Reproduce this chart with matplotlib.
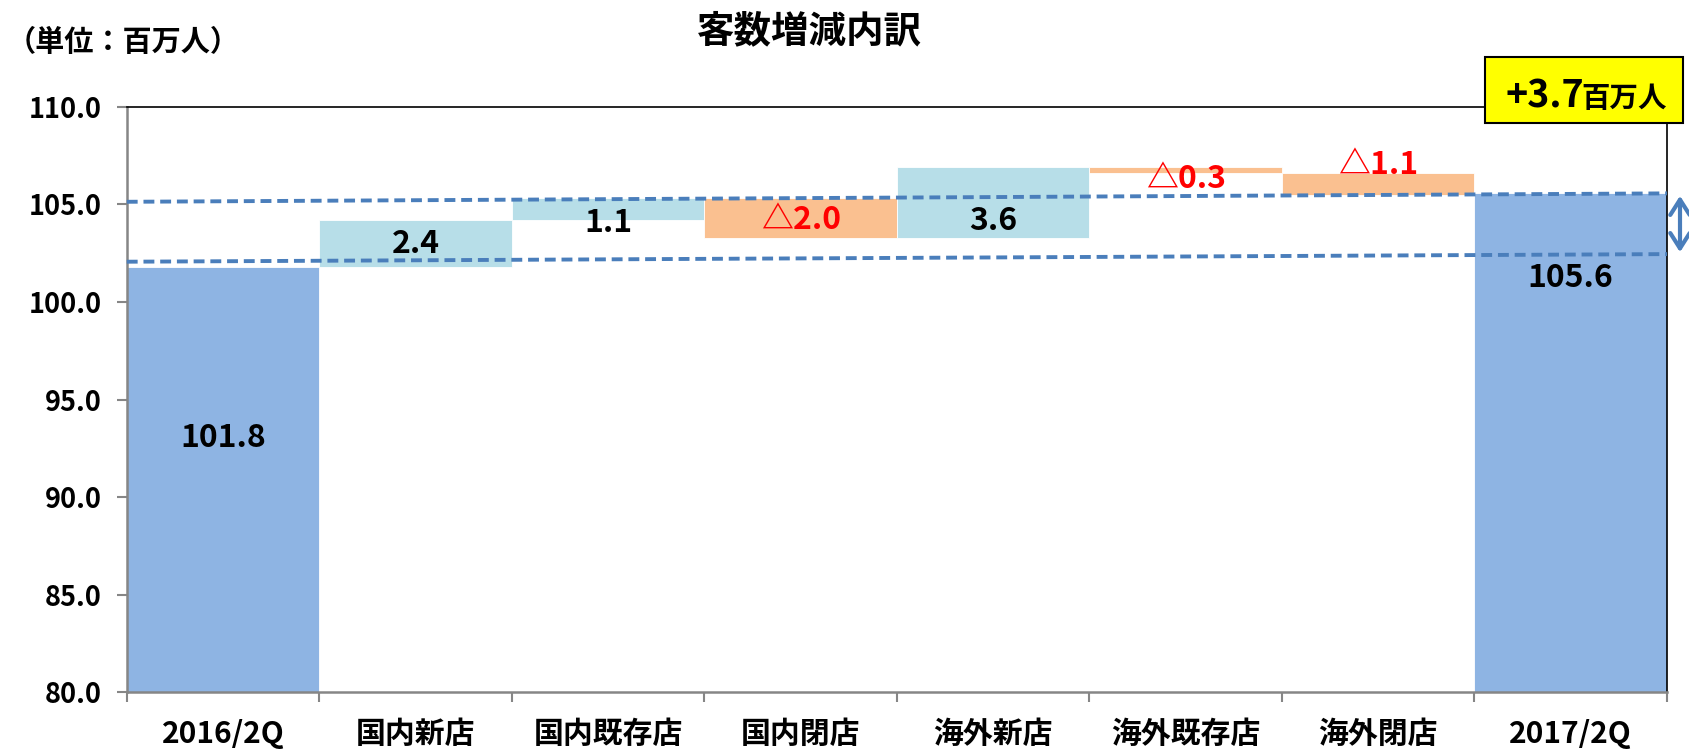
import numpy as np
import matplotlib
matplotlib.use('Agg')
import matplotlib.pyplot as plt
from matplotlib.patches import Rectangle, FancyArrowPatch

plt.rcParams['font.family'] = ['Noto Sans CJK JP', 'DejaVu Sans']

categories = ['2016/2Q', '国内新店', '国内既存店', '国内閉店', '海外新店', '海外既存店', '海外閉店', '2017/2Q']
start_total = 101.8
changes = [2.4, 1.1, -2.0, 3.6, -0.3, -1.1]
end_total = 105.6
total_change = 3.7

# label heights placed by hand in the original slide (data units)
label_y = [93.05, 102.97, 104.05, 104.2, 104.15, 106.3, 107.0, 101.23]
# dashed guide lines: value at left edge, value at right edge
guide_upper = [105.13, 105.56]
guide_lower = [102.06, 102.45]

c_total = '#8EB4E3'
c_up = '#B7DEE8'
c_down = '#FAC090'
c_guide = '#4A7EBB'
c_axis = '#868686'

n = len(categories)
x = np.arange(n)

# waterfall geometry
bottoms = [0]
heights = [start_total]
colors = [c_total]
texts = [f'{start_total:.1f}']
text_colors = ['black']
level = start_total
for c in changes:
    bottoms.append(min(level, level + c))
    heights.append(abs(c))
    colors.append(c_up if c > 0 else c_down)
    texts.append(f'{c:.1f}' if c > 0 else f'△{abs(c):.1f}')
    text_colors.append('black' if c > 0 else '#FF0000')
    level += c
bottoms.append(0)
heights.append(end_total)
colors.append(c_total)
texts.append(f'{end_total:.1f}')
text_colors.append('black')

fig = plt.figure(figsize=(16.9, 7.5), dpi=100)
ax = fig.add_axes([0.075, 0.0769, 0.9114, 0.7808])

ax.bar(x, heights, bottom=bottoms, width=1.0, color=colors,
       edgecolor='white', linewidth=0.6, zorder=2)

for i in range(n):
    ax.text(x[i], label_y[i], texts[i], ha='center', va='center',
            fontsize=23, fontweight='bold', color=text_colors[i], zorder=4)

# dashed guides
ax.plot([-0.5, n - 0.5], guide_upper, linestyle=(0, (2.8, 1.5)), color=c_guide,
        linewidth=2.8, zorder=3, clip_on=False)
ax.plot([-0.5, n - 0.5], guide_lower, linestyle=(0, (2.8, 1.5)), color=c_guide,
        linewidth=2.8, zorder=3, clip_on=False)

ax.set_xlim(-0.5, n - 0.5)
ax.set_ylim(80, 110)

ax.set_yticks(np.arange(80, 110.1, 5))
ax.set_yticklabels([f'{v:.1f}' for v in np.arange(80, 110.1, 5)], fontsize=19.5, fontweight='bold')
ax.tick_params(axis='y', length=7, width=1.5, color=c_axis, pad=11)

ax.set_xticks(x)
ax.set_xticklabels(categories, fontsize=21.5, fontweight='bold')
ax.tick_params(axis='x', which='major', length=0, pad=19)
ax.set_xticks(np.arange(-0.5, n), minor=True)
ax.tick_params(axis='x', which='minor', length=7, width=1.5, color=c_axis)

for s in ['left', 'bottom']:
    ax.spines[s].set_color(c_axis)
    ax.spines[s].set_linewidth(1.8)
for s in ['top', 'right']:
    ax.spines[s].set_color('black')
    ax.spines[s].set_linewidth(1.2)

# titles
fig.text(0.4787, 0.9587, '客数増減内訳', ha='center', va='center', fontsize=27, fontweight='bold')
fig.text(0.004, 0.944, '（単位：百万人）', ha='left', va='center', fontsize=21, fontweight='bold')

# highlight box
box = Rectangle((1485 / 1690, 1 - 123 / 750), 198 / 1690, 66 / 750, transform=fig.transFigure,
                facecolor='#FFFF00', edgecolor='black', linewidth=1.5, zorder=5)
fig.add_artist(box)
fig.text(1506 / 1690, 1 - 107 / 750, f'+{total_change:.1f}', ha='left', va='baseline',
         fontsize=27, fontweight='bold', zorder=6)
fig.text(1581 / 1690, 1 - 107 / 750, '百万人', ha='left', va='baseline',
         fontsize=20.5, fontweight='bold', zorder=6)

arrow = FancyArrowPatch((1680 / 1690, 1 - 193 / 750), (1680 / 1690, 1 - 255 / 750),
                        transform=fig.transFigure, arrowstyle='<->,head_length=0.55,head_width=0.35',
                        mutation_scale=20, color=c_guide, linewidth=3)
fig.add_artist(arrow)

plt.savefig('out.png', dpi=100)
plt.close()
